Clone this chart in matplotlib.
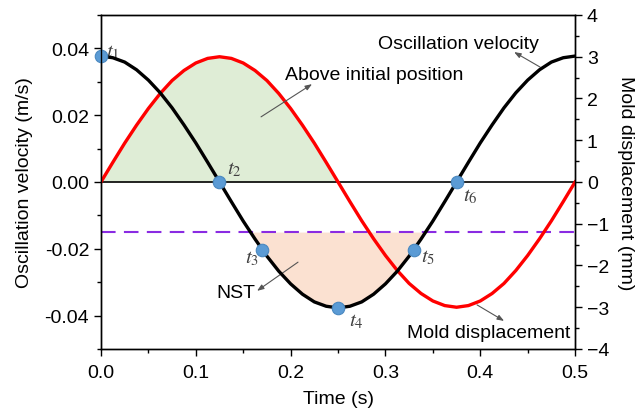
import numpy as np
import matplotlib
matplotlib.use("Agg")
from matplotlib import pyplot as plt
from matplotlib.ticker import MultipleLocator

plt.rcParams['font.family'] = ['Liberation Sans', 'DejaVu Sans']
plt.rcParams['mathtext.fontset'] = 'stix'

# time samples (s)
time = [0.0, 0.0125, 0.025, 0.0375, 0.05, 0.0625, 0.075, 0.0875, 0.1, 0.1125,
        0.125, 0.1375, 0.15, 0.1625, 0.175, 0.1875, 0.2, 0.2125, 0.225, 0.2375,
        0.25, 0.2625, 0.275, 0.2875, 0.3, 0.3125, 0.325, 0.3375, 0.35, 0.3625,
        0.375, 0.3875, 0.4, 0.4125, 0.425, 0.4375, 0.45, 0.4625, 0.475, 0.4875,
        0.5]
# oscillation velocity (m/s)
velocity = [0.0377, 0.0372, 0.0359, 0.0336, 0.0305, 0.0267, 0.0222, 0.0171, 0.0117, 0.0059,
            0.0, -0.0059, -0.0117, -0.0171, -0.0222, -0.0267, -0.0305, -0.0336, -0.0359, -0.0372,
            -0.0377, -0.0372, -0.0359, -0.0336, -0.0305, -0.0267, -0.0222, -0.0171, -0.0117, -0.0059,
            0.0, 0.0059, 0.0117, 0.0171, 0.0222, 0.0267, 0.0305, 0.0336, 0.0359, 0.0372,
            0.0377]
# mold displacement (mm)
displacement = [0.0, 0.47, 0.93, 1.36, 1.76, 2.12, 2.43, 2.67, 2.85, 2.96,
                3.0, 2.96, 2.85, 2.67, 2.43, 2.12, 1.76, 1.36, 0.93, 0.47,
                0.0, -0.47, -0.93, -1.36, -1.76, -2.12, -2.43, -2.67, -2.85, -2.96,
                -3.0, -2.96, -2.85, -2.67, -2.43, -2.12, -1.76, -1.36, -0.93, -0.47,
                0.0]
casting_speed = -0.015

# marked instants
mark_t = [0.0, 0.125, 0.17, 0.25, 0.33, 0.375]
mark_v = [0.0377, 0.0, -0.0204, -0.0377, -0.0204, 0.0]
mark_names = ['$t_1$', '$t_2$', '$t_3$', '$t_4$', '$t_5$', '$t_6$']
name_pos = [(0.0127, 0.0392), (0.1403, 0.0039), (0.1593, -0.0225),
            (0.269, -0.0416), (0.345, -0.0222), (0.390, -0.0039)]

t = np.array(time)
v = np.array(velocity)
s = np.array(displacement)

fig = plt.figure(figsize=(6.39, 4.14), dpi=100)
ax = fig.add_axes([0.158, 0.1546, 0.742, 0.8068])
ax2 = ax.twinx()

ax.set_xlim(0, 0.5)
ax.set_ylim(-0.05, 0.05)
ax2.set_ylim(-4, 4)

# fills
ax.fill_between(t, s, 0, where=s > 0, interpolate=True, color='#DFEDD6',
                linewidth=0, transform=ax2.transData, zorder=1)
ax.fill_between(t, v, casting_speed, where=v < casting_speed, interpolate=True,
                color='#FBE1D1', linewidth=0, zorder=1)

ax.axhline(0, color='black', lw=1.2, zorder=2)
ax.axhline(casting_speed, color='#8A2BE2', lw=1.5, ls=(0, (7, 4)), zorder=2)

ax.plot(t, s, color='#FF0000', lw=2.4, transform=ax2.transData, zorder=3)
ax.plot(t, v, color='black', lw=2.4, zorder=4)
ax.plot(mark_t, mark_v, 'o', ms=9, color='#5B9BD5', mec='#4A88C0', mew=0.8,
        zorder=5, clip_on=False)

for name, (x, y) in zip(mark_names, name_pos):
    ax.text(x, y, name, fontsize=15, color='#404040', ha='center', va='center')

arrow = dict(arrowstyle='-|>,head_length=0.4,head_width=0.15', color='#555555',
             lw=0.8, shrinkA=0, shrinkB=0)
ax.annotate('', xy=(0.2226, 0.0293), xytext=(0.1688, 0.0195), arrowprops=arrow)
ax.annotate('', xy=(0.4357, 0.0389), xytext=(0.4631, 0.0344), arrowprops=arrow)
ax.annotate('', xy=(0.1646, -0.0326), xytext=(0.2078, -0.0240), arrowprops=arrow)
ax.annotate('', xy=(0.4251, -0.0416), xytext=(0.3966, -0.0368), arrowprops=arrow)

ax.text(0.194, 0.0323, 'Above initial position', fontsize=14, va='center')
ax.text(0.2922, 0.0416, 'Oscillation velocity', fontsize=14, va='center')
ax.text(0.1213, -0.0332, 'NST', fontsize=14, va='center')
ax.text(0.3228, -0.0452, 'Mold displacement', fontsize=14, va='center')

ax.xaxis.set_major_locator(MultipleLocator(0.1))
ax.xaxis.set_minor_locator(MultipleLocator(0.05))
ax.yaxis.set_major_locator(MultipleLocator(0.02))
ax.yaxis.set_minor_locator(MultipleLocator(0.01))
ax2.yaxis.set_major_locator(MultipleLocator(1))
ax2.yaxis.set_minor_locator(MultipleLocator(0.5))
ax.xaxis.set_major_formatter(matplotlib.ticker.FormatStrFormatter('%.1f'))
ax.yaxis.set_major_formatter(matplotlib.ticker.FormatStrFormatter('%.2f'))

for a in (ax, ax2):
    a.tick_params(which='major', direction='out', length=5, width=1, labelsize=14)
    a.tick_params(which='minor', direction='out', length=3, width=1)
    for sp in a.spines.values():
        sp.set_linewidth(1)
ax.tick_params(axis='x', which='major', pad=6)

ax.set_xlabel('Time (s)', fontsize=14, labelpad=6)
ax.set_ylabel('Oscillation velocity (m/s)', fontsize=14, labelpad=8)
ax2.set_ylabel('Mold displacement (mm)', fontsize=14, rotation=270, labelpad=18)

fig.savefig('out.png', dpi=100)
